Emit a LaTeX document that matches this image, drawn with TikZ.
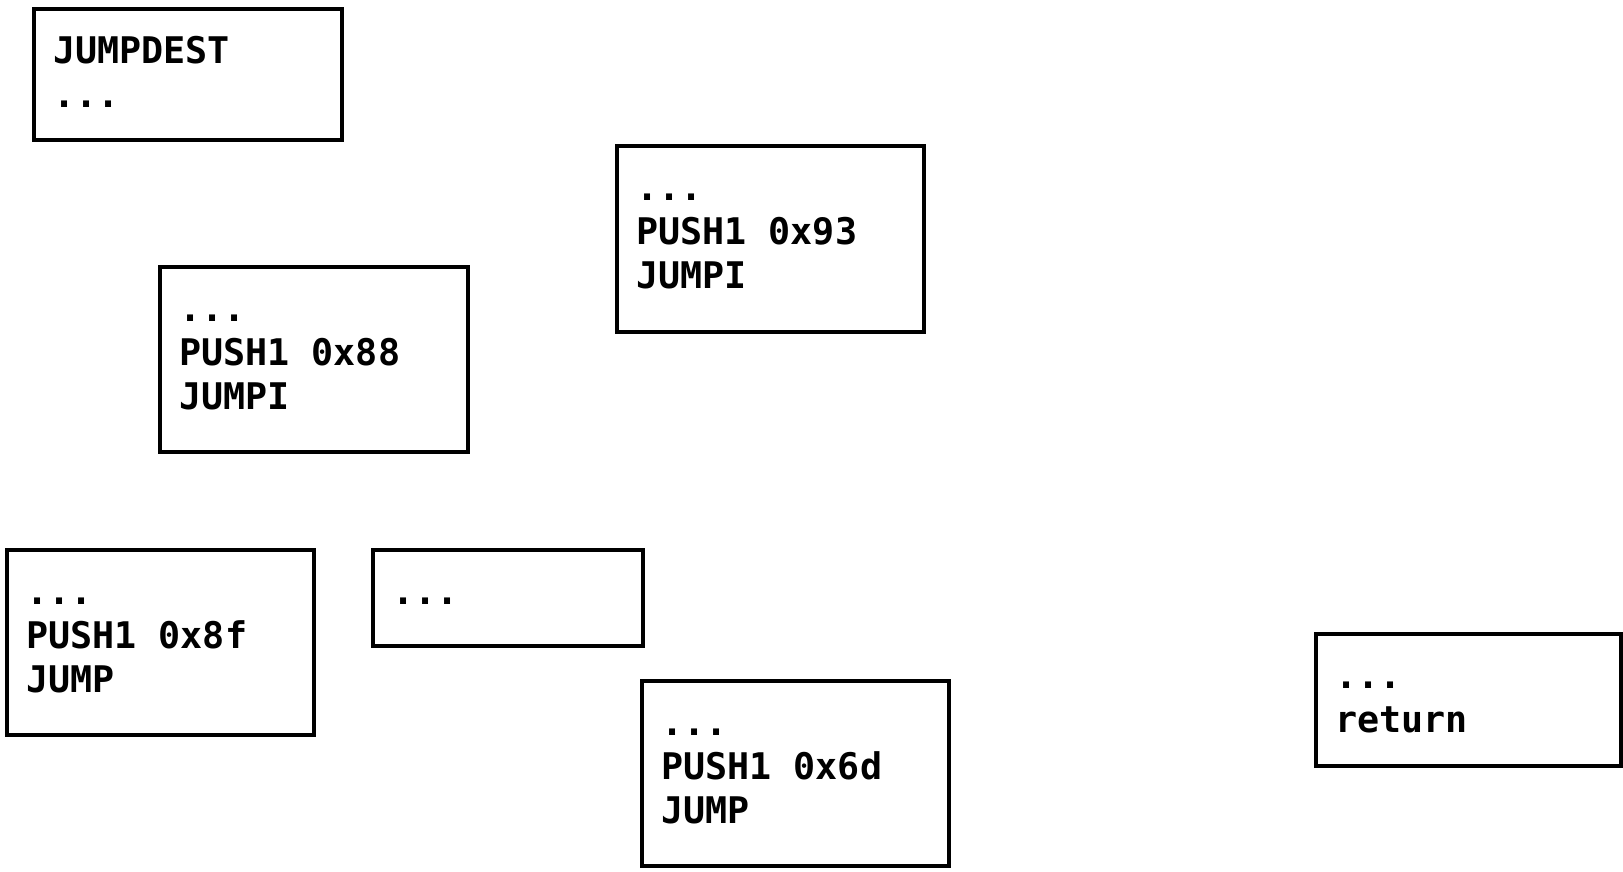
\documentclass[tikz,border=0pt]{standalone}
\usepackage{fontspec}
\setmonofont{DejaVu Sans Mono}
\begin{document}
\begin{tikzpicture}[x=1pt,y=-1pt,
  blk/.style={draw, line width=3.5pt, anchor=north west, inner sep=0pt, outer sep=0pt},
  code/.style={anchor=base west, align=left, inner sep=0pt, font=\ttfamily\bfseries\fontsize{36.7}{44}\selectfont}]
\useasboundingbox (0,0) rectangle (1623,871);
\node[blk, minimum width=308pt, minimum height=131pt] (b1) at (34,9) {};
\node[code] (t1) at (53,107) {JUMPDEST\\...};
\node[blk, minimum width=308pt, minimum height=185pt] (b2) at (160,267) {};
\node[code] (t2) at (179,409) {...\\PUSH1 0x88\\JUMPI};
\node[blk, minimum width=307pt, minimum height=186pt] (b3) at (617,146) {};
\node[code] (t3) at (636,288) {...\\PUSH1 0x93\\JUMPI};
\node[blk, minimum width=307pt, minimum height=185pt] (b4) at (7,550) {};
\node[code] (t4) at (26,692) {...\\PUSH1 0x8f\\JUMP};
\node[blk, minimum width=270pt, minimum height=96pt] (b5) at (373,550) {};
\node[code] (t5) at (392,604) {...};
\node[blk, minimum width=307pt, minimum height=185pt] (b6) at (642,681) {};
\node[code] (t6) at (661,823) {...\\PUSH1 0x6d\\JUMP};
\node[blk, minimum width=305pt, minimum height=132pt] (b7) at (1316,634) {};
\node[code] (t7) at (1335,732) {...\\return};
\end{tikzpicture}
\end{document}
